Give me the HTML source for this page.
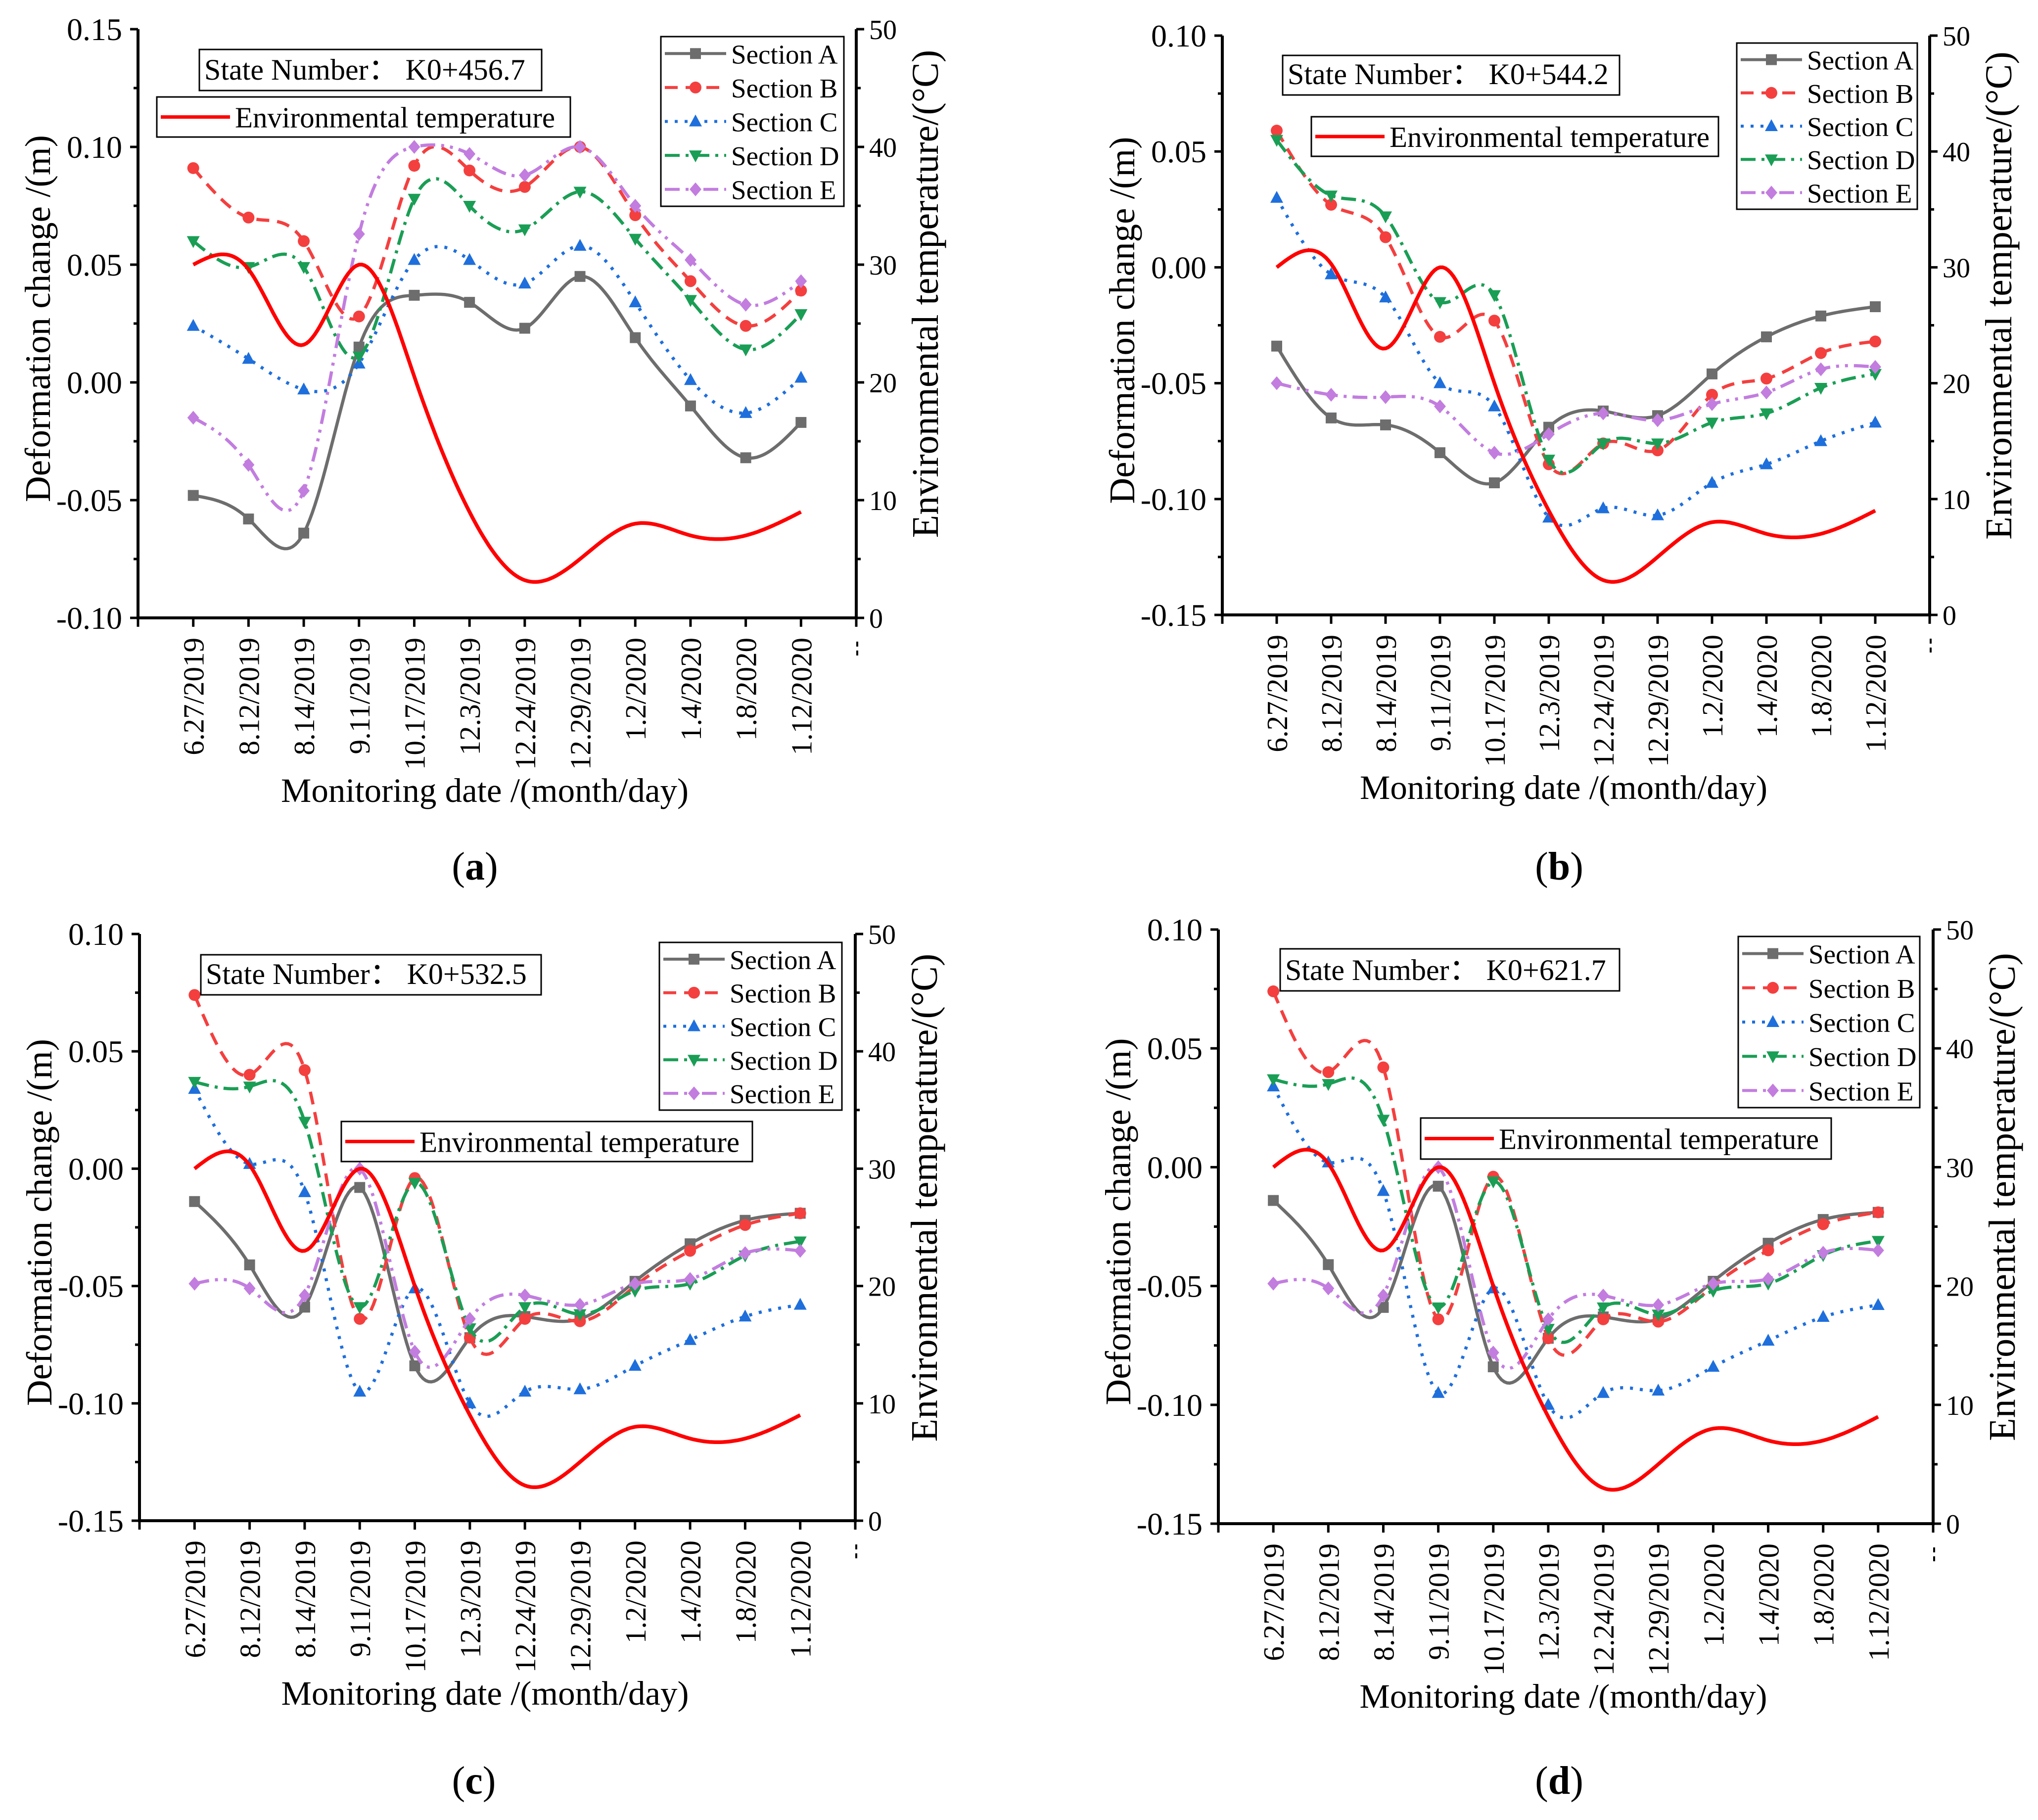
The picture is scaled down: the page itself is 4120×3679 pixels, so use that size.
<!DOCTYPE html>
<html><head><meta charset="utf-8"><style>
html,body{margin:0;padding:0;background:#fff}
svg{display:block}
text{font-family:"Liberation Serif",serif;fill:#000}
</style></head><body>
<svg id="chart" width="4120" height="3679" viewBox="0 0 4120 3679" xmlns="http://www.w3.org/2000/svg"></svg>
<script>
const categories=["6.27/2019","8.12/2019","8.14/2019","9.11/2019","10.17/2019","12.3/2019","12.24/2019","12.29/2019","1.2/2020","1.4/2020","1.8/2020","1.12/2020"];
const tempA=[30,29.6,23.2,30,20.5,9,3.2,5,8,7,7,9];
const tempBCD=[30,30.3,23,30,20,9,3,5,8,7,7,9];
const aSecA=[-0.048,-0.058,-0.064,0.015,0.037,0.034,0.023,0.045,0.019,-0.010,-0.032,-0.017];
const aSecB=[0.091,0.070,0.060,0.028,0.092,0.090,0.083,0.100,0.071,0.043,0.024,0.039];
const aSecC=[0.024,0.010,-0.003,0.008,0.052,0.052,0.042,0.058,0.034,0.001,-0.013,0.002];
const aSecD=[0.060,0.049,0.049,0.011,0.078,0.075,0.065,0.081,0.061,0.035,0.014,0.029];
const aSecE=[-0.015,-0.035,-0.046,0.063,0.100,0.097,0.088,0.100,0.075,0.052,0.033,0.043];
const bSecA=[-0.034,-0.065,-0.068,-0.080,-0.093,-0.069,-0.062,-0.064,-0.046,-0.030,-0.021,-0.017];
const bSecB=[0.059,0.027,0.013,-0.030,-0.023,-0.085,-0.076,-0.079,-0.055,-0.048,-0.037,-0.032];
const bSecC=[0.030,-0.003,-0.013,-0.050,-0.060,-0.108,-0.104,-0.107,-0.093,-0.085,-0.075,-0.067];
const bSecD=[0.055,0.031,0.022,-0.015,-0.012,-0.083,-0.076,-0.076,-0.067,-0.063,-0.052,-0.046];
const bSecE=[-0.050,-0.055,-0.056,-0.060,-0.080,-0.072,-0.063,-0.066,-0.059,-0.054,-0.044,-0.043];
const cSecA=[-0.014,-0.041,-0.059,-0.008,-0.084,-0.072,-0.063,-0.064,-0.048,-0.032,-0.022,-0.019];
const cSecB=[0.074,0.040,0.042,-0.064,-0.004,-0.072,-0.064,-0.065,-0.050,-0.035,-0.024,-0.019];
const cSecC=[0.034,0.002,-0.010,-0.095,-0.051,-0.100,-0.095,-0.094,-0.084,-0.073,-0.063,-0.058];
const cSecD=[0.037,0.035,0.020,-0.059,-0.006,-0.068,-0.059,-0.062,-0.052,-0.049,-0.037,-0.031];
const cSecE=[-0.049,-0.051,-0.054,0.000,-0.078,-0.064,-0.054,-0.058,-0.049,-0.047,-0.036,-0.035];
const leftTicksA=["-0.10","-0.05","0.00","0.05","0.10","0.15"];
const leftTicksB=["-0.15","-0.10","-0.05","0.00","0.05","0.10"];
const rightTicks=["0","10","20","30","40","50"];
const seriesNames=["Section A","Section B","Section C","Section D","Section E"];

const NS="http://www.w3.org/2000/svg";
const svg=document.getElementById('chart');
function mk(tag,attrs,parent){const e=document.createElementNS(NS,tag);for(const k in attrs)e.setAttribute(k,attrs[k]);(parent||svg).appendChild(e);return e;}
const styles=[
 {color:"#6d6d6d",dash:"",marker:"square"},
 {color:"#f43f3f",dash:"26,16",marker:"circle"},
 {color:"#1e6fdc",dash:"6,14",marker:"tri"},
 {color:"#1a9e55",dash:"30,12,6,12",marker:"tridown"},
 {color:"#c27ddf",dash:"30,12,6,12,6,12",marker:"diamond"}];

function spline(xs,ys){
 const n=xs.length;const h=[],al=[],l=[1],mu=[0],z=[0],c=new Array(n).fill(0),b=[],d=[];
 for(let i=0;i<n-1;i++)h.push(xs[i+1]-xs[i]);
 for(let i=1;i<n-1;i++)al[i]=3/h[i]*(ys[i+1]-ys[i])-3/h[i-1]*(ys[i]-ys[i-1]);
 for(let i=1;i<n-1;i++){l[i]=2*(xs[i+1]-xs[i-1])-h[i-1]*mu[i-1];mu[i]=h[i]/l[i];z[i]=(al[i]-h[i-1]*z[i-1])/l[i];}
 l[n-1]=1;z[n-1]=0;
 for(let j=n-2;j>=0;j--){c[j]=z[j]-mu[j]*c[j+1];b[j]=(ys[j+1]-ys[j])/h[j]-h[j]*(c[j+1]+2*c[j])/3;d[j]=(c[j+1]-c[j])/(3*h[j]);}
 let p="M"+xs[0].toFixed(1)+","+ys[0].toFixed(1);
 for(let i=0;i<n-1;i++){for(let s=1;s<=20;s++){const t=h[i]*s/20;const y=ys[i]+b[i]*t+c[i]*t*t+d[i]*t*t*t;p+="L"+(xs[i]+t).toFixed(1)+","+y.toFixed(1);}}
 return p;}

function marker(g,type,x,y,color){
 const s=11;let e;
 if(type=="square")e=mk('rect',{x:x-s,y:y-s,width:2*s,height:2*s,fill:color},g);
 else if(type=="circle")e=mk('circle',{cx:x,cy:y,r:s+1,fill:color},g);
 else if(type=="tri")e=mk('polygon',{points:`${x},${y-s-3} ${x-s-2},${y+s-1} ${x+s+2},${y+s-1}`,fill:color},g);
 else if(type=="tridown")e=mk('polygon',{points:`${x},${y+s+3} ${x-s-2},${y-s+1} ${x+s+2},${y-s+1}`,fill:color},g);
 else e=mk('polygon',{points:`${x},${y-s-3} ${x+s+1},${y} ${x},${y+s+3} ${x-s-1},${y}`,fill:color},g);
 
 }

function panel(P){
 const g=mk('g',{});
 
 
 const L=P.l,R=P.r,T=P.t,B=P.b;
 const xs=i=>L+(R-L)*(i+1)/13;
 const ys=v=>B-(B-T)*(v-P.ymin)/(P.ymax-P.ymin);
 const yt=v=>B-(B-T)*v/50;
 const sers=[P.A,P.B,P.C,P.D,P.E];
 sers.forEach((arr,k)=>{
  const sg=mk('g',{},g);
  
  
  const X=arr.map((v,i)=>xs(i)),Y=arr.map(v=>ys(v));
  const p=mk('path',{d:spline(X,Y),fill:"none",stroke:styles[k].color,"stroke-width":6.5,"stroke-dasharray":styles[k].dash},sg);
  
  
  arr.forEach((v,i)=>marker(sg,styles[k].marker,xs(i),ys(v),styles[k].color));
 });
 const tp=mk('path',{d:spline(P.temp.map((v,i)=>xs(i)),P.temp.map(v=>yt(v))),fill:"none",stroke:"#ff0000","stroke-width":7.5},g);
 
 
 const ax=mk('path',{d:`M${L},${T}L${L},${B}L${R},${B}L${R},${T}`,fill:"none",stroke:"#000","stroke-width":6},g);
 
 
 P.lt.forEach((lab,i)=>{
  const v=P.ymin+0.05*i,y=ys(v);
  mk('line',{x1:L-16,x2:L,y1:y,y2:y,stroke:"#000","stroke-width":5},g);
  if(i<5){const ym=ys(v+0.025);mk('line',{x1:L-9,x2:L,y1:ym,y2:ym,stroke:"#000","stroke-width":5},g);}
  const t=mk('text',{x:L-32,y:y+22,"font-size":64,"text-anchor":"end"},g);t.textContent=lab;
  
  
 });
 rightTicks.forEach((lab,i)=>{
  const y=yt(10*i);
  mk('line',{x1:R,x2:R+16,y1:y,y2:y,stroke:"#000","stroke-width":5},g);
  if(i<5){const ym=yt(10*i+5);mk('line',{x1:R,x2:R+9,y1:ym,y2:ym,stroke:"#000","stroke-width":5},g);}
  const t=mk('text',{x:R+26,y:y+20,"font-size":56},g);t.textContent=lab;
  
  
 });
 for(let i=-1;i<=12;i++){const x=xs(i);mk('line',{x1:x,x2:x,y1:B,y2:B+18,stroke:"#000","stroke-width":5},g);}
 mk('line',{x1:R+2,x2:R+2,y1:B+48,y2:B+80,stroke:"#000","stroke-width":4,"stroke-dasharray":"10,8"},g);
 categories.forEach((c,i)=>{
  const x=xs(i),y=B+40;
  const t=mk('text',{x:0,y:0,"font-size":59,"text-anchor":"end",transform:`translate(${x+21},${y}) rotate(-90)`},g);t.textContent=c;
  
  
 });
 let t=mk('text',{x:0,y:0,"font-size":73,"text-anchor":"middle",transform:`translate(${L-178},${(T+B)/2-10}) rotate(-90)`},g);t.textContent="Deformation change /(m)";
 
 t=mk('text',{x:0,y:0,"font-size":76,"text-anchor":"middle",transform:`translate(${R+165},${(T+B)/2-60}) rotate(-90)`},g);t.textContent="Environmental temperature/(°C)";
 
 t=mk('text',{x:(L+R)/2-25,y:B+372,"font-size":69,"text-anchor":"middle"},g);t.textContent="Monitoring date /(month/day)";
 
 t=mk('text',{x:P.lx,y:P.ly-12,"font-size":80,"text-anchor":"middle"},g);
 t.innerHTML='(<tspan font-weight="bold">'+P.id+'</tspan>)';
 
 const S=P.state;
 let r=mk('rect',{x:S[0],y:S[1],width:S[2]-S[0],height:S[3]-S[1],fill:"#fff",stroke:"#000","stroke-width":3},g);
 
 t=mk('text',{x:S[0]+10,y:S[3]-22,"font-size":60},g);t.textContent="State Number：  "+P.sn;
 
 const E=P.env;
 r=mk('rect',{x:E[0],y:E[1],width:E[2]-E[0],height:E[3]-E[1],fill:"#fff",stroke:"#000","stroke-width":3},g);
 
 const my=(E[1]+E[3])/2;
 mk('line',{x1:E[0]+8,x2:E[0]+148,y1:my,y2:my,stroke:"#ff0000","stroke-width":7},g);
 t=mk('text',{x:E[0]+158,y:my+21,"font-size":59},g);t.textContent="Environmental temperature";
 
 const G=P.leg;
 r=mk('rect',{x:G[0],y:G[1],width:G[2]-G[0],height:G[3]-G[1],fill:"#fff",stroke:"#000","stroke-width":3},g);
 
 const rowH=(G[3]-G[1])/5;
 seriesNames.forEach((n,k)=>{
  const y=G[1]+rowH*(k+0.5);
  const le=mk('g',{},g);
  
  
  mk('line',{x1:G[0]+8,x2:G[0]+132,y1:y,y2:y,stroke:styles[k].color,"stroke-width":6,"stroke-dasharray":styles[k].dash},le);
  marker(le,styles[k].marker,G[0]+70,y,styles[k].color);
  const tt=mk('text',{x:G[0]+142,y:y+20,"font-size":55},le);tt.textContent=n;
 });
}
panel({id:"a",l:279,r:1731,t:59,b:1249,ymin:-0.10,ymax:0.15,lt:leftTicksA,temp:tempA,A:aSecA,B:aSecB,C:aSecC,D:aSecD,E:aSecE,
 lx:960,ly:1790,sn:"K0+456.7",state:[403,100,1095,183],env:[317,196,1153,277],leg:[1336,74,1706,417]});
panel({id:"b",l:2471,r:3901,t:72,b:1243,ymin:-0.15,ymax:0.10,lt:leftTicksB,temp:tempBCD,A:bSecA,B:bSecB,C:bSecC,D:bSecD,E:bSecE,
 lx:3152,ly:1790,sn:"K0+544.2",state:[2593,112,3274,192],env:[2651,236,3474,316],leg:[3511,87,3876,423]});
panel({id:"c",l:282,r:1729,t:1888,b:3074,ymin:-0.15,ymax:0.10,lt:leftTicksB,temp:tempBCD,A:cSecA,B:cSecB,C:cSecC,D:cSecD,E:cSecE,
 lx:958,ly:3638,sn:"K0+532.5",state:[406,1930,1094,2011],env:[690,2267,1521,2348],leg:[1333,1905,1702,2244]});
panel({id:"d",l:2463,r:3908,t:1879,b:3080,ymin:-0.15,ymax:0.10,lt:leftTicksB,temp:tempBCD,A:cSecA,B:cSecB,C:cSecC,D:cSecD,E:cSecE,
 lx:3152,ly:3638,sn:"K0+621.7",state:[2588,1918,3274,2003],env:[2872,2260,3702,2343],leg:[3514,1893,3881,2239]});
</script>
</body></html>
